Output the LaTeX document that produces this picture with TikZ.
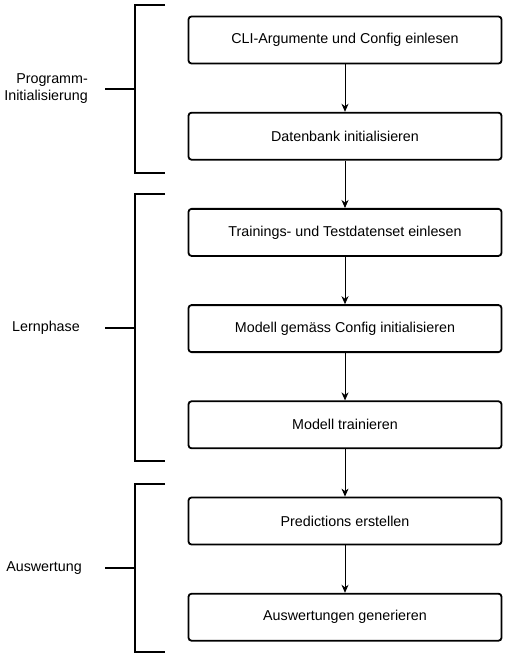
\documentclass[tikz,border=0pt]{standalone}
\usepackage{fontspec}
\setmainfont{Liberation Sans}
\usetikzlibrary{arrows.meta}
\begin{document}
\begin{tikzpicture}[x=1pt,y=-1pt,
  stepbox/.style={draw,line width=1.8pt,rounded corners=3pt,minimum width=313pt,minimum height=47pt,inner sep=0pt,font=\fontsize{14.3}{17}\selectfont},
  flow/.style={line width=0.9pt,-{Stealth[length=8pt,width=7pt,inset=2.5pt]}},
  brace/.style={line width=1.8pt},
  lbl/.style={font=\fontsize{14.3}{17}\selectfont,align=right,anchor=east,inner sep=0pt}]
\useasboundingbox (0,0) rectangle (508,660);
\foreach \i/\t in {1/{CLI-Argumente und Config einlesen},2/{Datenbank initialisieren},3/{Trainings- und Testdatenset einlesen},4/{Modell gemäss Config initialisieren},5/{Modell trainieren},6/{Predictions erstellen},7/{Auswertungen generieren}}{
  \node[stepbox] (b\i) at (345,{16+24+96.2*(\i-1)}) {\t};
}
\foreach \a/\b in {1/2,2/3,3/4,4/5,5/6,6/7}{
  \draw[flow] (b\a.south) -- (b\b.north);
}
% brackets
\foreach \n/\ta/\tb/\tm in {p/5/173/89,l/194/461/328,a/484/652/568}{
  \coordinate (\n t) at (165,\ta);
  \coordinate (\n b) at (165,\tb);
  \coordinate (\n m) at (135,\tm);
  \coordinate (\n e) at (105,\tm);
  \draw[brace] (\n t) -| (\n m) |- (\n b);
  \draw[brace] (\n m) -- (\n e);
}
\node[lbl] (lp) at (88,89) {Programm-\\Initialisierung};
\node[lbl] (ll) at (80,328) {Lernphase};
\node[lbl] (la) at (82,568) {Auswertung};
\end{tikzpicture}
\end{document}
